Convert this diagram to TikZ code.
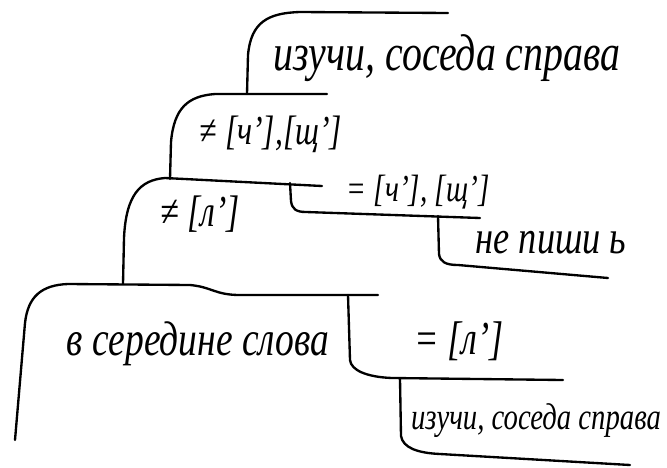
\documentclass[tikz,border=0pt]{standalone}
\usepackage{fontspec,graphicx}
\setmainfont{Liberation Serif}
\usetikzlibrary{positioning}
\newcommand{\tallhand}[1]{\scalebox{1}[1.3]{#1}}
\tikzset{
  hw/.style={inner sep=0pt,font=\fontsize{#1}{#1}\selectfont\itshape},
  ln/.style={line width=2pt,line cap=round,line join=round}
}

\begin{document}
\begin{tikzpicture}[x=0.03cm,y=-0.03cm]
  \useasboundingbox (0,0) rectangle (667,467);

  \node[hw=34] (top) at (447,58) {\tallhand{изучи, соседа справа}};
  \node[hw=27] (notchsh) at (271,134) {\tallhand{≠ [ч’],[щ’]}};
  \node[hw=29] (notl) at (200,214) {\tallhand{≠ [л’]}};
  \node[hw=25] (eqchsh) at (418,192) {\tallhand{= [ч’], [щ’]}};
  \node[hw=31] (nosoft) at (551,243) {\tallhand{не пиши ь}};
  \node[hw=32] (middle) at (198,344) {\tallhand{в середине слова}};
  \node[hw=31] (eql) at (459,341) {\tallhand{= [л’]}};
  \node[hw=24.5] (bot) at (536,421) {\tallhand{изучи, соседа справа}};

  \coordinate (rootend) at (15,440);
  \coordinate (j1) at (123,284);
  \coordinate (j2) at (170,179);
  \coordinate (j3) at (247,94);
  \coordinate (j4) at (290,183);
  \coordinate (j5) at (438,216);
  \coordinate (j6) at (348,295);
  \coordinate (j7) at (400,379);

  \draw[ln] (rootend) -- (25,323) .. controls (28,296) and (42,285) .. (68,284)
    -- (190,285) .. controls (212,287) and (215,295) .. (240,295) -- (378,295);
  \draw[ln] (j1) -- (124,238) .. controls (126,195) and (140,180) .. (165,178)
    -- (322,186);
  \draw[ln] (j2) -- (171,142) .. controls (174,108) and (188,96) .. (215,94)
    -- (327,94);
  \draw[ln] (j3) -- (248,55) .. controls (251,22) and (268,13) .. (300,12)
    -- (448,13);
  \draw[ln] (j4) -- (291,201) .. controls (292,209) and (296,212) .. (306,212)
    -- (480,218);
  \draw[ln] (j5) -- (439,254) .. controls (440,262) and (446,265) .. (458,265)
    -- (608,278);
  \draw[ln] (j6) -- (350,360) .. controls (351,370) and (366,377) .. (392,378)
    -- (563,380);
  \draw[ln] (j7) -- (401,436) .. controls (403,448) and (418,453) .. (440,454)
    -- (630,465);
\end{tikzpicture}
\end{document}
